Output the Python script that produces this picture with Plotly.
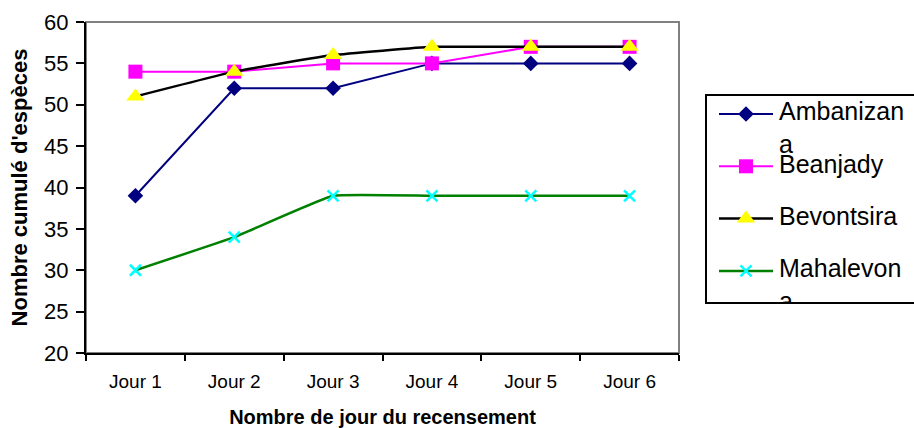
import plotly.graph_objects as go

# --- data -------------------------------------------------------------
categories = ["Jour 1", "Jour 2", "Jour 3", "Jour 4", "Jour 5", "Jour 6"]
ambanizana = [39, 52, 52, 55, 55, 55]
beanjady = [54, 54, 55, 55, 57, 57]
bevontsira = [51, 54, 56, 57, 57, 57]
mahalevona = [30, 34, 39, 39, 39, 39]

series_names = ["Ambanizana", "Beanjady", "Bevontsira", "Mahalevona"]
legend_labels = ["Ambanizan<br>a", "Beanjady", "Bevontsira", "Mahalevon<br>a"]
y_ticks = [20, 25, 30, 35, 40, 45, 50, 55, 60]

x_title = "Nombre de jour du recensement"
y_title = "Nombre cumulé d'espèces"

# --- styles -----------------------------------------------------------
FONT = "Liberation Sans, Arial, sans-serif"
W, H = 914, 428
PLOT_L, PLOT_R, PLOT_T, PLOT_B = 86, 679, 22, 353
LEG_L, LEG_R, LEG_T, LEG_B = 706, 914, 95, 303
LEG_ROW0, LEG_ROW_GAP = 114, 52.3
LEG_KEY_X0, LEG_KEY_X1, LEG_TEXT_X = 719, 773, 779
LEG_FONT = 25

styles = {
    "Ambanizana": dict(line=dict(color="#000080", width=2), shape="linear",
                       marker=dict(symbol="diamond", size=12, color="#000080")),
    "Beanjady": dict(line=dict(color="#FF00FF", width=2), shape="linear",
                     marker=dict(symbol="square", size=14, color="#FF00FF")),
    "Bevontsira": dict(line=dict(color="#000000", width=2.5), shape="spline",
                       marker=dict(symbol="triangle-up", size=16, color="#FFFF00")),
    "Mahalevona": dict(line=dict(color="#008000", width=2.5), shape="spline",
                       marker=dict(symbol="x-thin", size=11, color="#00FFFF",
                                   line=dict(color="#00FFFF", width=2.5))),
}

values = [ambanizana, beanjady, bevontsira, mahalevona]

fig = go.Figure()

# main series
for name, ys in zip(series_names, values):
    st = styles[name]
    fig.add_trace(go.Scatter(
        x=categories, y=ys, name=name, mode="lines+markers",
        line=dict(color=st["line"]["color"], width=st["line"]["width"],
                  shape=st["shape"], smoothing=0.3),
        marker=st["marker"], xaxis="x", yaxis="y", cliponaxis=False,
    ))

# legend keys, drawn in a pixel-scaled helper subplot
for i, (name, label) in enumerate(zip(series_names, legend_labels)):
    st = styles[name]
    row_y = LEG_ROW0 + i * LEG_ROW_GAP
    fig.add_trace(go.Scatter(
        x=[LEG_KEY_X0, LEG_KEY_X1], y=[row_y, row_y], mode="lines",
        line=dict(color=st["line"]["color"], width=st["line"]["width"]),
        xaxis="x2", yaxis="y2", hoverinfo="skip", showlegend=False,
    ))
    fig.add_trace(go.Scatter(
        x=[(LEG_KEY_X0 + LEG_KEY_X1) / 2], y=[row_y], mode="markers",
        marker=st["marker"], xaxis="x2", yaxis="y2", hoverinfo="skip",
        showlegend=False,
    ))
    n_lines = label.count("<br>") + 1
    fig.add_trace(go.Scatter(
        x=[LEG_TEXT_X], y=[row_y + (n_lines - 1) * 0.65 * LEG_FONT],
        mode="text", text=[label], textposition="middle right",
        textfont=dict(family=FONT, size=LEG_FONT, color="black"),
        xaxis="x2", yaxis="y2", hoverinfo="skip", showlegend=False,
        cliponaxis=True,
    ))

shapes = [
    # grey frame around the plotting area
    dict(type="rect", xref="paper", yref="paper",
         x0=PLOT_L / W, x1=PLOT_R / W, y0=(H - PLOT_B) / H, y1=(H - PLOT_T) / H,
         line=dict(color="#808080", width=2), layer="below"),
    # legend box
    dict(type="rect", xref="paper", yref="paper",
         x0=LEG_L / W, x1=1.02, y0=(H - LEG_B) / H, y1=(H - LEG_T) / H,
         line=dict(color="black", width=2), fillcolor="white", layer="below"),
]

fig.update_layout(
    width=W, height=H, margin=dict(l=0, r=0, t=0, b=0, autoexpand=False),
    paper_bgcolor="white", plot_bgcolor="rgba(0,0,0,0)",
    showlegend=False, shapes=shapes,
    font=dict(family=FONT, color="black"),
    xaxis=dict(
        domain=[PLOT_L / W, PLOT_R / W], anchor="y", type="category",
        categoryorder="array", categoryarray=categories, range=[-0.5, 5.5],
        showline=True, linecolor="black", linewidth=2, showgrid=False,
        zeroline=False, ticks="outside", tickson="boundaries", ticklen=6,
        tickwidth=2, tickcolor="black", ticklabelstandoff=10,
        tickfont=dict(family=FONT, size=19, color="black"),
        title=dict(text="<b>" + x_title + "</b>", standoff=21,
                   font=dict(family=FONT, size=20, color="black")),
        automargin=False, fixedrange=True,
    ),
    yaxis=dict(
        domain=[(H - PLOT_B) / H, (H - PLOT_T) / H], anchor="x",
        range=[20, 60], tickvals=y_ticks, showline=True, linecolor="black",
        linewidth=2, showgrid=False, zeroline=False, ticks="outside",
        ticklen=8, tickwidth=2, tickcolor="black", ticklabelstandoff=3,
        tickfont=dict(family=FONT, size=22, color="black"),
        title=dict(text="<b>" + y_title + "</b>", standoff=10,
                   font=dict(family=FONT, size=22, color="black")),
        automargin=False, fixedrange=True,
    ),
    xaxis2=dict(domain=[LEG_L / W, 1], range=[LEG_L, LEG_R], anchor="y2",
                visible=False, fixedrange=True, automargin=False),
    yaxis2=dict(domain=[(H - LEG_B) / H, (H - LEG_T) / H],
                range=[LEG_B, LEG_T], anchor="x2", visible=False,
                fixedrange=True, automargin=False),
)

fig.write_html("out.html")
